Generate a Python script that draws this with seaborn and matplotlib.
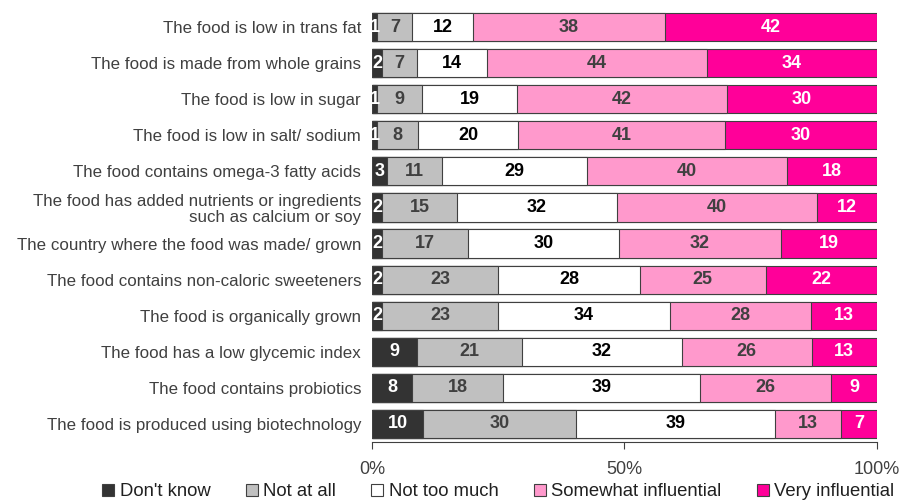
import numpy as np
import pandas as pd
import matplotlib
matplotlib.use("Agg")
import matplotlib.pyplot as plt
from matplotlib.patches import Patch
import seaborn as sns

items = [
    "The food is low in trans fat",
    "The food is made from whole grains",
    "The food is low in sugar",
    "The food is low in salt/ sodium",
    "The food contains omega-3 fatty acids",
    "The food has added nutrients or ingredients\nsuch as calcium or soy",
    "The country where the food was made/ grown",
    "The food contains non-caloric sweeteners",
    "The food is organically grown",
    "The food has a low glycemic index",
    "The food contains probiotics",
    "The food is produced using biotechnology",
]
dont_know = [1, 2, 1, 1, 3, 2, 2, 2, 2, 9, 8, 10]
not_at_all = [7, 7, 9, 8, 11, 15, 17, 23, 23, 21, 18, 30]
not_too_much = [12, 14, 19, 20, 29, 32, 30, 28, 34, 32, 39, 39]
somewhat = [38, 44, 42, 41, 40, 40, 32, 25, 28, 26, 26, 13]
very = [42, 34, 30, 30, 18, 12, 19, 22, 13, 13, 9, 7]

series = ["Don't know", "Not at all", "Not too much", "Somewhat influential", "Very influential"]
colors = ["#333333", "#C0C0C0", "#FFFFFF", "#FF99CC", "#FF0099"]
text_colors = ["white", "#404040", "black", "#404040", "white"]

df = pd.DataFrame({"item": items, series[0]: dont_know, series[1]: not_at_all,
                   series[2]: not_too_much, series[3]: somewhat, series[4]: very})
vals = df[series]
pct = vals.div(vals.sum(axis=1), axis=0) * 100
cum = pct.cumsum(axis=1)

plt.rcParams["font.family"] = ["Liberation Sans", "DejaVu Sans"]
fig = plt.figure(figsize=(9.01, 5), dpi=100)
ax = fig.add_axes([0.413, 0.116, 0.56, 0.866])

# stacked bars: draw cumulative totals from widest to narrowest
for i in range(len(series) - 1, -1, -1):
    sns.barplot(x=cum[series[i]], y=df["item"], orient="h", color=colors[i],
                saturation=1, width=0.78, edgecolor="#404040", linewidth=0.8, ax=ax)

for i, s in enumerate(series):
    centers = cum[s] - pct[s] / 2
    for row in range(len(items)):
        ax.text(centers[row], row, str(vals[s][row]), ha="center", va="center",
                fontsize=13, fontweight="bold", color=text_colors[i])

ax.set_xlim(0, 100)
ax.set_ylim(11.5, -0.5)
ax.set_xticks([0, 50, 100])
ax.set_xticklabels(["0%", "50%", "100%"], fontsize=13, color="#404040")
ax.set_ylabel("")
ax.set_xlabel("")
ax.tick_params(axis="y", length=0, labelsize=12.2, pad=8)
ax.tick_params(axis="x", length=5, direction="out", color="#404040", pad=9)
for sp in ["top", "right", "left"]:
    ax.spines[sp].set_visible(False)
ax.spines["bottom"].set_color("#404040")
for lbl in ax.get_yticklabels():
    lbl.set_color("#404040")
    lbl.set_linespacing(1.05)

handles = [Patch(facecolor=c, edgecolor="#404040", linewidth=0.8) for c in colors]
fig.legend(handles, series, loc="lower center", bbox_to_anchor=(0.553, -0.034), ncol=5,
           frameon=False, fontsize=13.3, handlelength=0.65, handleheight=0.65,
           handletextpad=0.3, columnspacing=1.9, labelcolor="#202020")

fig.savefig("out.png", dpi=100)
